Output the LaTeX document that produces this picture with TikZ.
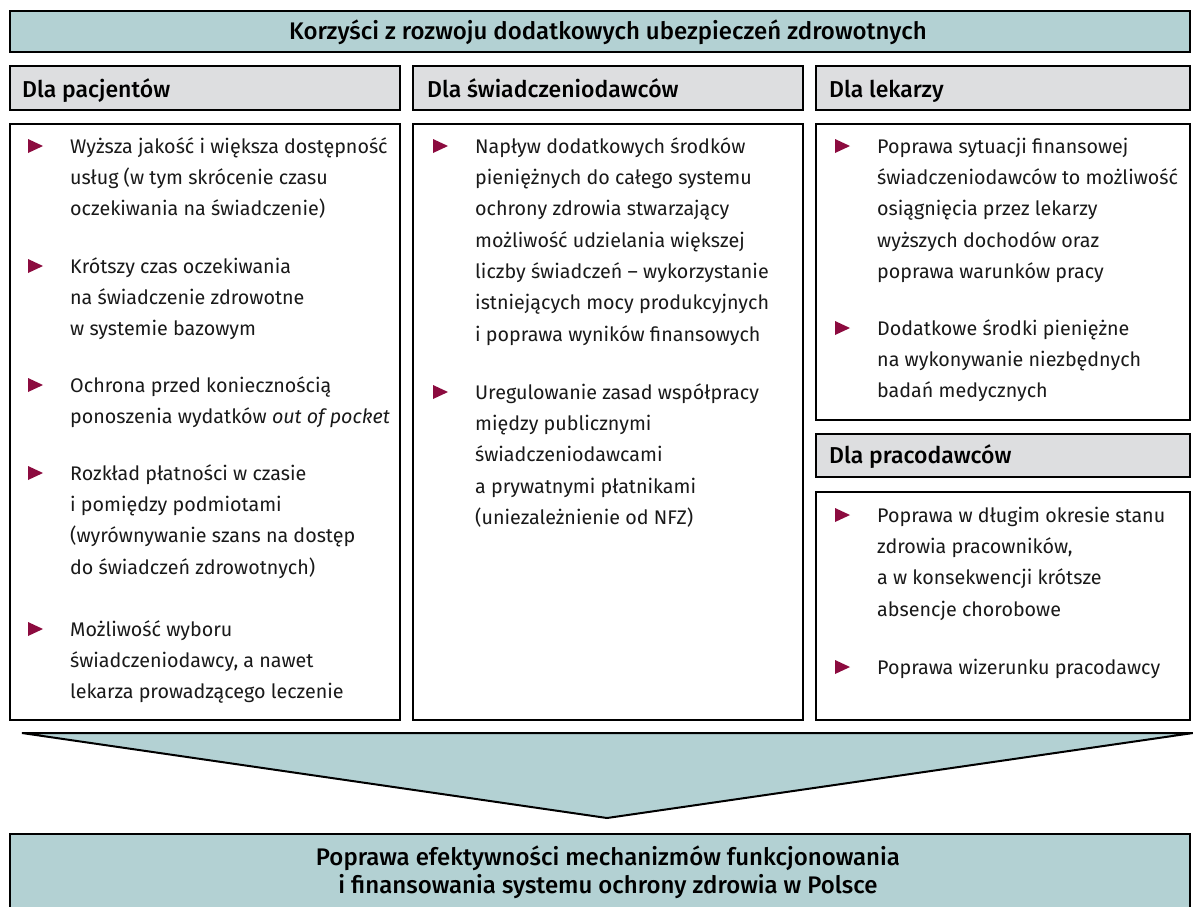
\documentclass[tikz,border=0pt]{standalone}
\usepackage{fontspec}
\setmainfont{Fira Sans}[BoldFont={Fira Sans Medium}]
\definecolor{teal}{HTML}{B3D1D3}
\definecolor{hgray}{HTML}{DDDEE0}
\definecolor{bul}{HTML}{8C0B3F}
\tikzset{
  frame/.style={draw=black, line width=2pt},
  tealbox/.style={frame, fill=teal},
  graybox/.style={frame, fill=hgray},
  bodybox/.style={frame, fill=white},
  itemtext/.style={font=\fontsize{19.7}{31.3}\selectfont, align=left, inner sep=0pt, anchor=north west, text=black!90},
  hdrtext/.style={font=\fontsize{23}{27}\selectfont\bfseries, inner sep=0pt, anchor=base west},
  titletext/.style={font=\fontsize{24}{28}\selectfont\bfseries, inner sep=0pt, align=center},
  bullet/.style={fill=bul}
}
\newcommand{\bitem}[4]{%
  \fill[bullet] (#2-42,#3) -- ++(0,-14) -- ++(15,7) -- cycle;
  \node[itemtext] (#1) at (#2,#3-21.9) {\strut #4};
}
\begin{document}
\begin{tikzpicture}[x=1pt,y=-1pt]
\useasboundingbox (0,0) rectangle (1193,906);
% banner
\draw[tealbox] (10,11) rectangle (1190,52);
\node[titletext, anchor=base] (banner) at (608,39) {Korzyści z rozwoju dodatkowych ubezpieczeń zdrowotnych};
% headers
\draw[graybox] (10,66) rectangle (400,110);
\draw[graybox] (413,66) rectangle (803,110);
\draw[graybox] (816,66) rectangle (1190,110);
\node[hdrtext] (hpac) at (22,97) {Dla pacjentów};
\node[hdrtext] (hswi) at (427,97) {Dla świadczeniodawców};
\node[hdrtext] (hlek) at (829,97) {Dla lekarzy};
% bodies
\draw[bodybox] (10,124) rectangle (400,720);
\draw[bodybox] (413,124) rectangle (803,720);
\draw[bodybox] (816,124) rectangle (1190,420);
\draw[graybox] (816,434) rectangle (1190,477);
\node[hdrtext] (hpra) at (829,463) {Dla pracodawców};
\draw[bodybox] (816,492) rectangle (1190,720);
% column 1
\bitem{p1}{70}{153}{Wyższa jakość i większa dostępność\\usług (w tym skrócenie czasu\\oczekiwania na świadczenie)}
\bitem{p2}{70}{273}{Krótszy czas oczekiwania\\na świadczenie zdrowotne\\w systemie bazowym}
\bitem{p3}{70}{392}{Ochrona przed koniecznością\\ponoszenia wydatków \textit{out of pocket}}
\bitem{p4}{70}{480}{Rozkład płatności w czasie\\i pomiędzy podmiotami\\(wyrównywanie szans na dostęp\\do świadczeń zdrowotnych)}
\bitem{p5}{70}{636}{Możliwość wyboru\\świadczeniodawcy, a nawet\\lekarza prowadzącego leczenie}
% column 2
\bitem{s1}{475}{153}{Napływ dodatkowych środków\\pieniężnych do całego systemu\\ochrony zdrowia stwarzający\\możliwość udzielania większej\\liczby świadczeń – wykorzystanie\\istniejących mocy produkcyjnych\\i poprawa wyników finansowych}
\bitem{s2}{475}{399}{Uregulowanie zasad współpracy\\między publicznymi\\świadczeniodawcami\\a prywatnymi płatnikami\\(uniezależnienie od NFZ)}
% column 3
\bitem{l1}{877}{153}{Poprawa sytuacji finansowej\\świadczeniodawców to możliwość\\osiągnięcia przez lekarzy\\wyższych dochodów oraz\\poprawa warunków pracy}
\bitem{l2}{877}{335}{Dodatkowe środki pieniężne\\na wykonywanie niezbędnych\\badań medycznych}
% column 4
\bitem{r1}{877}{522}{Poprawa w długim okresie stanu\\zdrowia pracowników,\\a w konsekwencji krótsze\\absencje chorobowe}
\bitem{r2}{877}{674}{Poprawa wizerunku pracodawcy}
% arrow triangle
\draw[tealbox, line join=miter] (22,733) -- (1193,733) -- (607,818) -- cycle;
% bottom box
\draw[tealbox] (10,834) rectangle (1190,915);
\node[titletext, anchor=north] (result) at (608,845.4) {\strut Poprawa efektywności mechanizmów funkcjonowania\\i finansowania systemu ochrony zdrowia w Polsce};
\end{tikzpicture}
\end{document}
